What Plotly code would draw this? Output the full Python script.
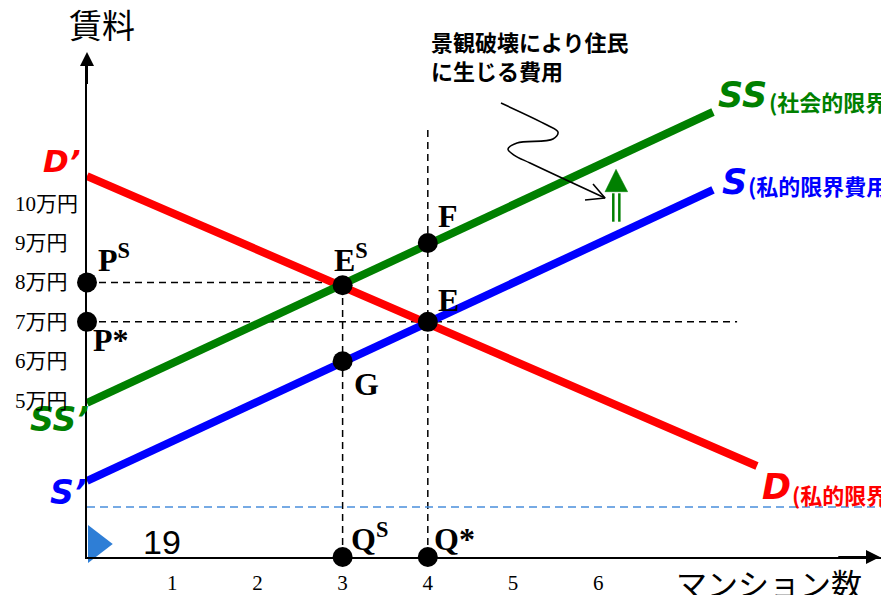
import plotly.graph_objects as go

# ---------------- data ----------------
quantity_ticks = [1, 2, 3, 4, 5, 6]
quantity_tick_labels = ["1", "2", "3", "4", "5", "6"]
rent_ticks = [5, 6, 7, 8, 9, 10]
rent_tick_labels = ["5万円", "6万円", "7万円", "8万円", "9万円", "10万円"]

AXIS_Y = 1.03          # value where the quantity axis is drawn
X_MAX = 9.319
Y_MAX = 13.647

demand_x = [0, 7.863]          # D (私的限界便益)
demand_y = [10.70, 3.34]
supply_x = [0, 7.347]          # S (私的限界費用)
supply_y = [2.96, 10.347]
social_x = [0, 7.347]          # SS (社会的限界費用)
social_y = [4.94, 12.327]

p_s, p_star = 8, 7
q_s, q_star = 3, 4
es_y, f_y, g_y = 7.93, 9, 6
level_line_y = 2.30            # blue dashed level
h7_end_x = 7.63
v4_top_y = 11.92

point_x = [0, 0, q_s, q_star, q_star, q_s, q_s, q_star]
point_y = [p_s, p_star, es_y, p_star, f_y, g_y, AXIS_Y, AXIS_Y]

# wavy pointer curve (景観破壊 → SS の上方シフト)
wave_x = [4.859, 5.399, 5.528, 5.469, 5.047, 4.941, 5.012, 5.200, 6.080]
wave_y = [12.554, 11.996, 11.818, 11.640, 11.539, 11.386, 11.234, 11.031, 10.143]
wave_head_x = [5.939, 6.080, 5.845]
wave_head_y = [10.499, 10.143, 10.093]

shift_shaft_x = [6.177, 6.248]
shift_shaft_y = [9.542, 10.263]
shift_head_x = [6.080, 6.209, 6.346, 6.080]
shift_head_y = [10.304, 10.872, 10.304, 10.304]

marker_x, marker_y = [0.1086], [1.360]

RED, GREEN, BLUE = "#FF0000", "#008000", "#0000FF"
SERIF = "Liberation Serif, Noto Sans CJK JP"
GOTHIC = "Noto Sans CJK JP"
ITAL = "DejaVu Sans"

fig = go.Figure()

# dashed guide lines
dash_black = dict(color="black", width=1.5, dash="7px,5px")
fig.add_shape(type="line", x0=0, x1=q_s, y0=p_s, y1=p_s, line=dash_black, layer="below")
fig.add_shape(type="line", x0=0, x1=h7_end_x, y0=p_star, y1=p_star, line=dash_black, layer="below")
fig.add_shape(type="line", x0=q_s, x1=q_s, y0=AXIS_Y, y1=es_y, line=dash_black, layer="below")
fig.add_shape(type="line", x0=q_star, x1=q_star, y0=AXIS_Y, y1=v4_top_y, line=dash_black, layer="below")
fig.add_shape(type="line", x0=0, x1=X_MAX, y0=level_line_y, y1=level_line_y,
              line=dict(color="#4A8FDB", width=1.5, dash="8px,5px"), layer="below")

# curves
fig.add_trace(go.Scatter(x=demand_x, y=demand_y, mode="lines", line=dict(color=RED, width=8)))
fig.add_trace(go.Scatter(x=social_x, y=social_y, mode="lines", line=dict(color=GREEN, width=8)))
fig.add_trace(go.Scatter(x=supply_x, y=supply_y, mode="lines", line=dict(color=BLUE, width=8)))

# wavy pointer
fig.add_trace(go.Scatter(x=wave_x, y=wave_y, mode="lines",
                         line=dict(color="black", width=1.6, shape="spline", smoothing=1.0)))
fig.add_trace(go.Scatter(x=wave_head_x, y=wave_head_y, mode="lines",
                         line=dict(color="black", width=1.6)))

# green upward shift arrow
for sx in shift_shaft_x:
    fig.add_trace(go.Scatter(x=[sx, sx], y=shift_shaft_y, mode="lines",
                             line=dict(color=GREEN, width=2.5)))
fig.add_trace(go.Scatter(x=shift_head_x, y=shift_head_y, mode="lines", fill="toself",
                         fillcolor=GREEN, line=dict(color=GREEN, width=0.5)))

# points
fig.add_trace(go.Scatter(x=point_x, y=point_y, mode="markers", cliponaxis=False,
                         marker=dict(color="black", size=20)))

# slide marker
fig.add_trace(go.Scatter(x=marker_x, y=marker_y, mode="markers", cliponaxis=False,
                         marker=dict(symbol="triangle-right", size=33, color="#2E7ED6",
                                     line=dict(width=0))))

ann = []


def lab(x, y, text, dx, dy, size=32, family=SERIF, color="black", xanchor="left"):
    ann.append(dict(x=x, y=y, xref="x", yref="y", text=text, showarrow=False,
                    xanchor=xanchor, yanchor="middle", xshift=dx, yshift=dy,
                    font=dict(family=family, size=size, color=color)))


# point labels
lab(0, p_s, "<b>P<sup>S</sup></b>", 9, 24)
lab(0, p_star, "<b>P*</b>", 4, -18)
lab(q_s, es_y, "<b>E<sup>S</sup></b>", -11, 27)
lab(q_star, p_star, "<b>E</b>", 8, 22)
lab(q_star, f_y, "<b>F</b>", 8, 27)
lab(q_s, g_y, "<b>G</b>", 9, -23)
lab(q_s, AXIS_Y, "<b>Q<sup>S</sup></b>", 6, 20)
lab(q_star, AXIS_Y, "<b>Q*</b>", 4, 18)

# curve labels
lab(demand_x[0], demand_y[0], "<b><i>D’</i></b>", -4, 15, 31, ITAL, RED, "right")
lab(social_x[0], social_y[0], "<b><i>SS’</i></b>", 4, -17, 33, ITAL, GREEN, "right")
lab(supply_x[0], supply_y[0], "<b><i>S’</i></b>", 1, -12, 33, ITAL, BLUE, "right")
lab(social_x[1], social_y[1], "<b><i>SS</i></b>", 3, 17, 35, ITAL, GREEN)
lab(social_x[1], social_y[1], "<b>(社会的限界費用)</b>", 54, 11, 22, GOTHIC, GREEN)
lab(supply_x[1], supply_y[1], "<b><i>S</i></b>", 7, 8, 35, ITAL, BLUE)
lab(supply_x[1], supply_y[1], "<b>(私的限界費用)</b>", 33, 5, 22, GOTHIC, BLUE)
lab(demand_x[1], demand_y[1], "<b><i>D</i></b>", 3, -21, 35, ITAL, RED)
lab(demand_x[1], demand_y[1], "<b>(私的限界便益)</b>", 33, -28, 22, GOTHIC, RED)

# rent tick labels (left aligned)
for v, t in zip(rent_ticks, rent_tick_labels):
    ann.append(dict(x=0, y=v, xref="paper", yref="y", text=t, showarrow=False,
                    xanchor="left", yanchor="middle", xshift=-74,
                    font=dict(family=SERIF, size=21, color="black")))

# axis titles & notes
ann.append(dict(x=0, y=1, xref="paper", yref="paper", text="賃料", showarrow=False,
                xanchor="center", yanchor="middle", xshift=15, yshift=36,
                font=dict(family=GOTHIC, size=33, color="black")))
ann.append(dict(x=0, y=0, xref="paper", yref="paper", text="マンション数", showarrow=False,
                xanchor="center", yanchor="middle", xshift=682, yshift=-25,
                font=dict(family=GOTHIC, size=31, color="black")))
ann.append(dict(x=0, y=0, xref="paper", yref="paper", text="19", showarrow=False,
                xanchor="center", yanchor="middle", xshift=75, yshift=15,
                font=dict(family="Liberation Sans", size=34, color="black")))
ann.append(dict(x=0, y=1, xref="paper", yref="paper",
                text="<b>景観破壊により住民<br>に生じる費用</b>", showarrow=False,
                xanchor="left", yanchor="middle", align="left", xshift=342, yshift=5,
                font=dict(family=GOTHIC, size=22, color="black")))

# axis arrowheads
ann.append(dict(x=9.307, y=AXIS_Y, ax=8.8, ay=AXIS_Y, xref="x", yref="y", axref="x", ayref="y",
                text="", showarrow=True, arrowhead=2, arrowsize=1.4, arrowwidth=2,
                arrowcolor="black"))
ann.append(dict(x=0, y=13.85, ax=0, ay=13.0, xref="x", yref="y", axref="x", ayref="y",
                text="", showarrow=True, arrowhead=2, arrowsize=1.4, arrowwidth=2,
                arrowcolor="black"))

fig.update_layout(
    width=881, height=595,
    margin=dict(l=87, r=0, t=60, b=38),
    paper_bgcolor="white", plot_bgcolor="white",
    showlegend=False,
    annotations=ann,
    xaxis=dict(range=[0, X_MAX], showgrid=False, zeroline=False, showline=True,
               linecolor="black", linewidth=2, tickvals=quantity_ticks,
               ticktext=quantity_tick_labels, ticks="outside", ticklen=6,
               tickcolor="rgba(0,0,0,0)",
               tickfont=dict(family=SERIF, size=21, color="black")),
    yaxis=dict(range=[AXIS_Y, Y_MAX], showgrid=False, zeroline=False, showline=True,
               linecolor="black", linewidth=2, showticklabels=False),
)

fig.write_html("out.html", config={"displayModeBar": False},
               post_script="document.body.style.margin='0px';document.body.style.overflow='hidden';")
